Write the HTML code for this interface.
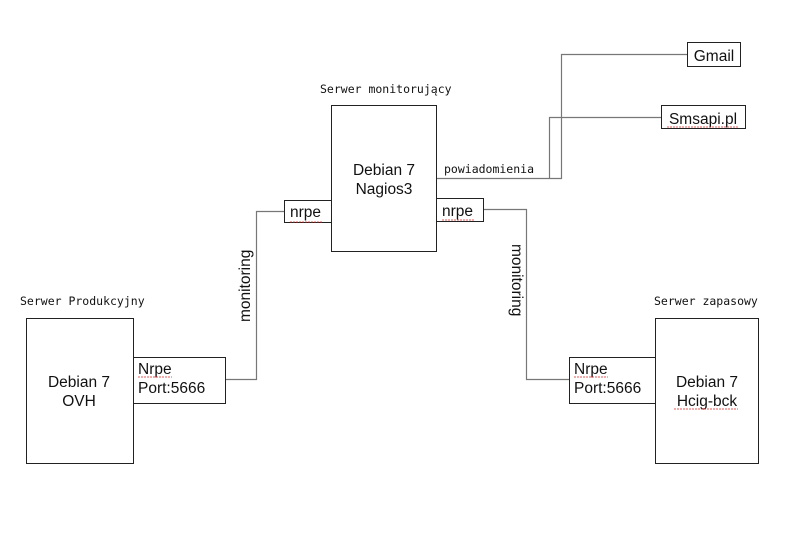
<!DOCTYPE html>
<html><head><meta charset="utf-8"><style>html,body{margin:0;padding:0;background:#fff}</style></head>
<body>
<svg width="786" height="556" xmlns="http://www.w3.org/2000/svg" style="display:block">
<rect width="786" height="556" fill="#fff"/>
<g fill="none" stroke="#777" stroke-width="1.2">
<polyline points="284.5,211.5 256.5,211.5 256.5,379.5 225.5,379.5"/>
<polyline points="483.5,209.5 526.5,209.5 526.5,379.5 569.5,379.5"/>
<polyline points="436.5,178.5 561.5,178.5 561.5,54.5 687.5,54.5"/>
<polyline points="549.5,178.5 549.5,117.5 661.5,117.5"/>
</g>
<g fill="#fff" stroke="#222" stroke-width="1">
<rect x="331.5" y="105.5" width="105" height="146"/>
<rect x="284.5" y="200.5" width="47" height="22"/>
<rect x="436.5" y="198.5" width="47" height="23"/>
<rect x="26.5" y="318.5" width="107" height="145"/>
<rect x="133.5" y="357.5" width="92" height="46"/>
<rect x="655.5" y="318.5" width="103" height="145"/>
<rect x="569.5" y="357.5" width="86" height="46"/>
<rect x="687.5" y="42.5" width="53" height="24"/>
<rect x="661.5" y="105.5" width="84" height="23"/>
</g>
<g font-family="Liberation Sans, sans-serif" font-size="15.5" fill="#111" text-anchor="middle">
<text x="384" y="175">Debian 7</text>
<text x="384" y="194">Nagios3</text>
<text x="79" y="387">Debian 7</text>
<text x="79" y="406">OVH</text>
<text x="707" y="387">Debian 7</text>
<text x="707" y="406">Hcig-bck</text>
<text x="714" y="61">Gmail</text>
<text x="703" y="124">Smsapi.pl</text>
</g>
<g font-family="Liberation Sans, sans-serif" font-size="15.5" fill="#111">
<text x="290" y="217">nrpe</text>
<text x="442" y="216">nrpe</text>
<text x="138" y="374">Nrpe</text>
<text x="138" y="393">Port:5666</text>
<text x="574" y="374">Nrpe</text>
<text x="574" y="393">Port:5666</text>
<text transform="translate(250,322) rotate(-90)">monitoring</text>
<text transform="translate(512,244) rotate(90)">monitoring</text>
</g>
<g font-family="DejaVu Sans Mono, Liberation Mono, monospace" font-size="11.5" fill="#111">
<text x="320" y="93">Serwer monitorujący</text>
<text x="444" y="173">powiadomienia</text>
<text x="20" y="305">Serwer Produkcyjny</text>
<text x="654" y="305">Serwer zapasowy</text>
</g>
<g fill="none" stroke="#d22" stroke-width="0.8" stroke-dasharray="2,1">
<line x1="290" y1="222" x2="323" y2="222"/>
<line x1="442" y1="220" x2="475" y2="220"/>
<line x1="138" y1="377" x2="172" y2="377"/>
<line x1="574" y1="377" x2="608" y2="377"/>
<line x1="674" y1="409" x2="738" y2="409"/>
<line x1="667" y1="127" x2="739" y2="127"/>
</g>
</svg>
</body></html>
